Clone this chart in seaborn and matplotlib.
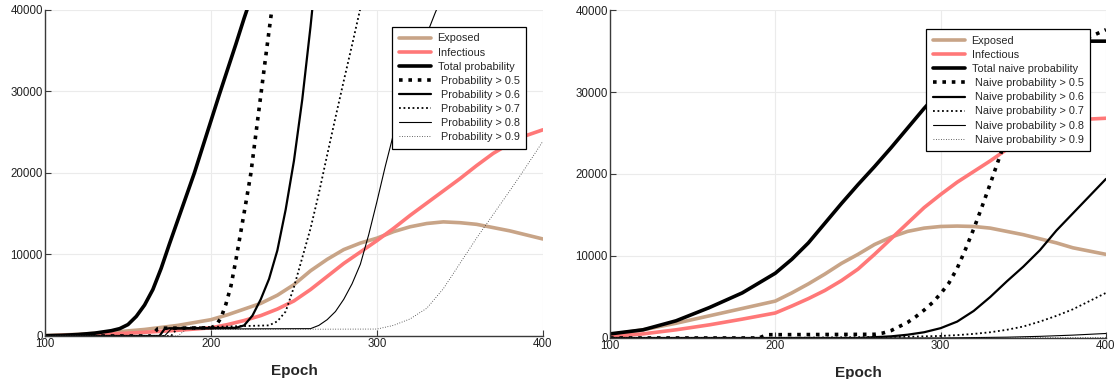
import matplotlib
matplotlib.use("Agg")
import matplotlib.pyplot as plt
import seaborn as sns


# ==================================
# DATA
# ==================================

sir_epochs = [100, 120, 140, 160, 180, 200, 210, 220, 230, 240, 250, 260, 270,
              280, 290, 300, 310, 320, 330, 340, 350, 360, 370, 380, 390, 400]

# left panel: model probabilities
exposed_left = [50, 200, 450, 800, 1300, 2000, 2600, 3300, 4000, 5000, 6300, 8000, 9400,
                10600, 11400, 12000, 12800, 13400, 13800, 14000, 13900, 13700, 13300, 12900, 12400, 11900]
infectious_left = [0, 100, 250, 450, 700, 1000, 1400, 1900, 2500, 3300, 4300, 5700, 7300,
                   8900, 10300, 11700, 13200, 14800, 16300, 17800, 19300, 20900, 22400, 23600, 24600, 25300]

total_left_epochs = [100, 110, 120, 130, 140, 145, 150, 155, 160, 165, 170, 175, 180,
                     185, 190, 195, 200, 205, 210, 215, 220, 225]
total_left = [30, 80, 180, 350, 650, 900, 1400, 2400, 3800, 5700, 8300, 11300, 14200,
              17100, 20000, 23200, 26400, 29600, 32700, 35800, 39000, 42000]

p05_left_epochs = [100, 164, 168, 170, 200, 203, 206, 209, 212, 215, 218, 221, 224, 227, 230, 233, 236, 239]
p05_left = [0, 0, 900, 950, 1000, 1300, 2200, 3900, 6100, 9300, 12800, 16300, 19900, 24700, 29500, 34300, 39000, 43500]

p06_left_epochs = [100, 169, 172, 175, 215, 220, 225, 230, 235, 240, 245, 250, 255, 260, 263]
p06_left = [0, 0, 850, 950, 1000, 1300, 2500, 4500, 7000, 10500, 15500, 21500, 29000, 38000, 44000]

p07_left_epochs = [100, 176, 180, 235, 240, 245, 250, 255, 260, 265, 270, 275, 280, 285, 290, 295]
p07_left = [0, 0, 1000, 1300, 1800, 3000, 6000, 9600, 13200, 17500, 22200, 26800, 31300, 35700, 40200, 44000]

p08_left_epochs = [100, 172, 176, 260, 265, 270, 275, 280, 285, 290, 295, 300, 305, 310,
                   315, 320, 325, 330, 335, 340]
p08_left = [0, 0, 850, 900, 1300, 2000, 3000, 4500, 6400, 8800, 12400, 16500, 20800, 24800,
            28500, 31600, 34400, 37000, 39600, 42000]

p09_left_epochs = [100, 180, 185, 300, 310, 320, 330, 340, 350, 360, 370, 380, 390, 400]
p09_left = [0, 0, 800, 850, 1300, 2100, 3400, 5800, 8900, 12000, 14900, 17800, 20800, 23900]

# right panel: naive probabilities
exposed_right = [400, 1000, 1800, 2700, 3600, 4500, 5500, 6600, 7800, 9100, 10200, 11400, 12300,
                 13000, 13400, 13600, 13650, 13600, 13400, 13000, 12600, 12100, 11600, 11000, 10600, 10200]
infectious_right = [200, 500, 1000, 1600, 2300, 3050, 3900, 4800, 5800, 7000, 8400, 10200, 12100,
                    14000, 15900, 17500, 19000, 20300, 21600, 23000, 24200, 25100, 25800, 26300, 26700, 26800]
total_right = [500, 1000, 2100, 3700, 5500, 7900, 9600, 11600, 14000, 16400, 18700, 20900, 23200,
               25600, 28000, 30200, 32100, 33700, 34900, 35700, 36100, 36200, 36200, 36200, 36200, 36200]

p05_right_epochs = [100, 190, 195, 260, 265, 270, 275, 280, 285, 290, 295, 300, 305, 310, 315,
                    320, 325, 330, 335, 340, 345, 350, 355, 360, 370, 380, 390, 400]
p05_right = [0, 0, 400, 450, 600, 900, 1400, 1900, 2600, 3400, 4300, 5400, 6700, 8500, 10800,
             13300, 16000, 18800, 21700, 24500, 27000, 29200, 31000, 32500, 34500, 35800, 36700, 37600]

p06_right_epochs = [100, 250, 260, 270, 280, 290, 300, 310, 320, 330, 340, 350, 360, 370, 380, 390, 400]
p06_right = [0, 0, 100, 200, 400, 700, 1200, 2000, 3300, 5000, 6900, 8700, 10700, 13100, 15200, 17300, 19400]

p07_right_epochs = [100, 200, 250, 280, 300, 310, 320, 330, 340, 350, 360, 370, 380, 390, 400]
p07_right = [0, 0, 100, 150, 250, 350, 500, 700, 1000, 1400, 2000, 2700, 3500, 4500, 5500]

p08_right_epochs = [100, 300, 320, 340, 360, 380, 400]
p08_right = [0, 0, 50, 100, 200, 350, 550]

p09_right_epochs = [100, 300, 400]
p09_right = [0, 0, 50]


# ==================================
# STYLE
# ==================================

sns.set_theme(style="white")
plt.rcParams["font.family"] = ["Liberation Sans", "DejaVu Sans"]

TAN = "#c8a487"
SALMON = "#ff7878"

styles = {
    "exposed": dict(color=TAN, lw=2.6, ls="-"),
    "infectious": dict(color=SALMON, lw=2.6, ls="-"),
    "total": dict(color="black", lw=2.6, ls="-"),
    "p05": dict(color="black", lw=2.6, ls=(0, (1, 1.6))),
    "p06": dict(color="black", lw=1.6, ls="-"),
    "p07": dict(color="black", lw=1.3, ls=(0, (1, 1.5))),
    "p08": dict(color="black", lw=0.8, ls="-"),
    "p09": dict(color="#333333", lw=0.6, ls=(0, (1, 2))),
}

left_series = [
    ("exposed", sir_epochs, exposed_left, "Exposed"),
    ("infectious", sir_epochs, infectious_left, "Infectious"),
    ("total", total_left_epochs, total_left, "Total probability"),
    ("p05", p05_left_epochs, p05_left, " Probability > 0.5"),
    ("p06", p06_left_epochs, p06_left, " Probability > 0.6"),
    ("p07", p07_left_epochs, p07_left, " Probability > 0.7"),
    ("p08", p08_left_epochs, p08_left, " Probability > 0.8"),
    ("p09", p09_left_epochs, p09_left, " Probability > 0.9"),
]

right_series = [
    ("exposed", sir_epochs, exposed_right, "Exposed"),
    ("infectious", sir_epochs, infectious_right, "Infectious"),
    ("total", sir_epochs, total_right, "Total naive probability"),
    ("p05", p05_right_epochs, p05_right, " Naive probability > 0.5"),
    ("p06", p06_right_epochs, p06_right, " Naive probability > 0.6"),
    ("p07", p07_right_epochs, p07_right, " Naive probability > 0.7"),
    ("p08", p08_right_epochs, p08_right, " Naive probability > 0.8"),
    ("p09", p09_right_epochs, p09_right, " Naive probability > 0.9"),
]


# ==================================
# PLOT
# ==================================

fig = plt.figure(figsize=(11.16, 3.79), dpi=100)
ax_left = fig.add_axes([0.0403, 0.1135, 0.4462, 0.8602])
ax_right = fig.add_axes([0.5466, 0.1082, 0.4444, 0.8654])


def draw_panel(ax, series, legend_anchor):
    for key, xs, ys, label in series:
        st = styles[key]
        sns.lineplot(x=xs, y=ys, ax=ax, color=st["color"], lw=st["lw"],
                     ls=st["ls"], label=label, sort=False)

    ax.set_xlim(100, 400)
    ax.set_ylim(0, 40000)
    ax.set_xticks([100, 200, 300, 400])
    ax.set_yticks([0, 10000, 20000, 30000, 40000])
    ax.grid(True, color="#ebebeb", lw=0.8)
    ax.set_axisbelow(True)

    for side in ["top", "right"]:
        ax.spines[side].set_visible(False)
    for side in ["left", "bottom"]:
        ax.spines[side].set_color("#3a3a3a")
        ax.spines[side].set_linewidth(1.0)

    ax.tick_params(direction="in", length=4, width=0.8, color="#3a3a3a",
                   labelsize=8.3, labelcolor="#222222", pad=1.5,
                   bottom=True, left=True)
    ax.set_xlabel("Epoch", fontsize=11, fontweight="bold", labelpad=10)
    ax.set_ylabel("")

    leg = ax.legend(loc="upper right", bbox_to_anchor=legend_anchor,
                    fontsize=7.8, frameon=True, fancybox=False, shadow=False,
                    framealpha=1, edgecolor="black", borderpad=0.6,
                    labelspacing=0.38, handlelength=3.0, handletextpad=0.6,
                    borderaxespad=0)
    leg.get_frame().set_linewidth(0.9)


draw_panel(ax_left, left_series, (0.966, 0.948))
draw_panel(ax_right, right_series, (0.968, 0.941))

fig.savefig("out.png", dpi=100)
